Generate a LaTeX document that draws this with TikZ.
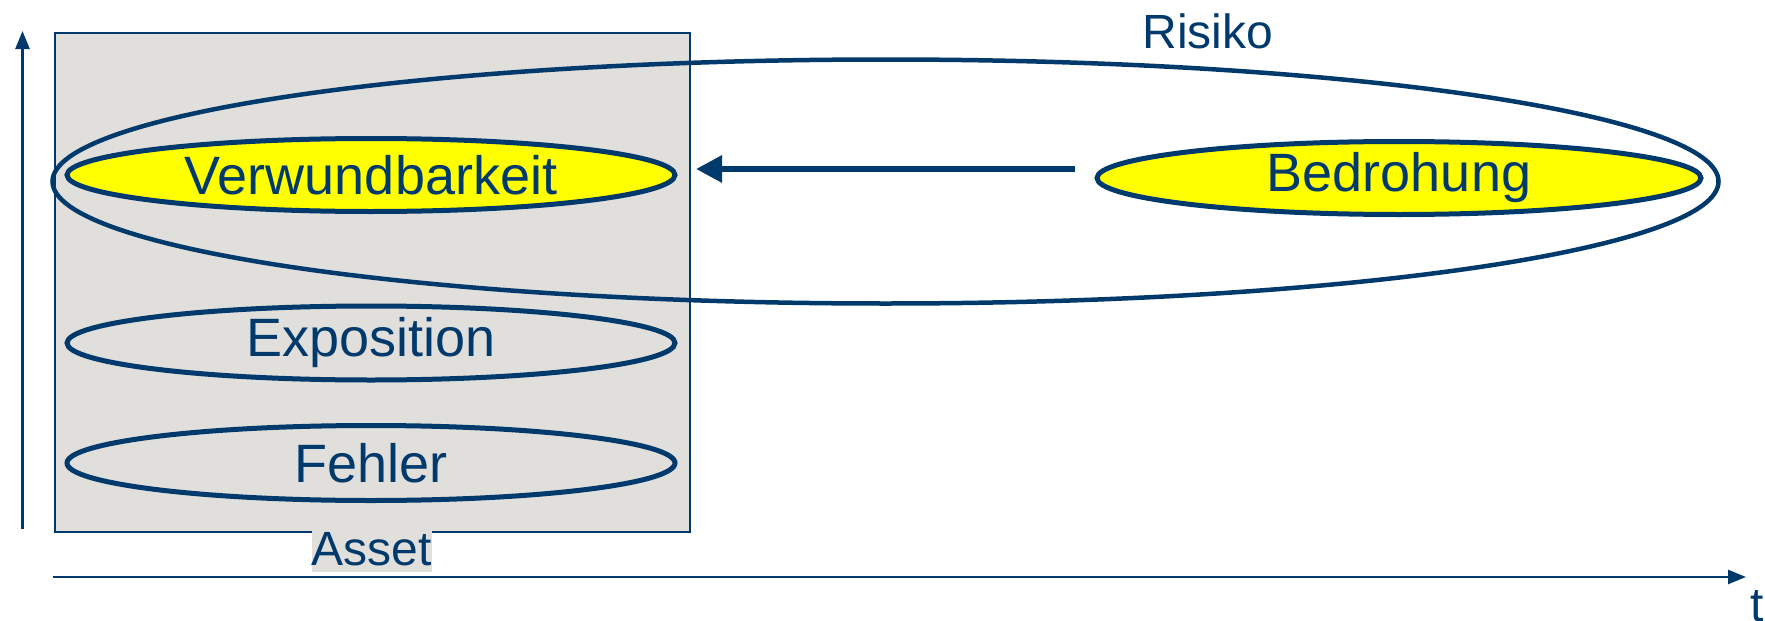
\documentclass[tikz,border=0pt]{standalone}
\usepackage{fontspec}
\setmainfont{Liberation Sans}
\usetikzlibrary{arrows.meta,shapes.geometric}
\definecolor{navy}{HTML}{003A6C}
\definecolor{assetgray}{HTML}{E1DFDB}
\definecolor{yel}{HTML}{FFFF00}
\tikzset{
  oval/.style={ellipse, draw=navy, line width=5pt, inner sep=0pt, text=navy,
     font=\fontsize{54}{62}\selectfont},
  lbl/.style={text=navy, inner sep=0pt, font=\fontsize{48}{56}\selectfont},
  axis/.style={draw=navy, line width=2.5pt, -{Triangle[length=18pt,width=14pt]}}
}
\begin{document}
\begin{tikzpicture}[x=1pt,y=-1pt]
\useasboundingbox (0,0) rectangle (1765,621);
% asset box
\node[draw=navy, line width=2pt, fill=assetgray, minimum width=635pt, minimum height=499.5pt, inner sep=0pt, anchor=north west] (box) at (54,31.5) {};
\node[lbl, fill=assetgray, minimum width=119pt, minimum height=46pt] (asset) at (372,549) {Asset};
% axes
\coordinate (vb) at (22.5,529);
\coordinate (vt) at (22.5,31);
\coordinate (hl) at (53,577);
\coordinate (hr) at (1746,577);
\draw[axis] (vb) -- (vt);
\draw[axis] (hl) -- (hr);
\node[lbl] (t) at (1757,606) {t};
% ellipses
\node[oval, fill=yel, minimum width=608pt, minimum height=73pt] (verw) at (371,175) {Verwundbarkeit};
\node[oval, minimum width=608pt, minimum height=74pt] (expo) at (371,343) {Exposition};
\node[oval, minimum width=608pt, minimum height=75pt] (fehler) at (371,463) {Fehler};
\node[oval, fill=yel, minimum width=604pt, minimum height=73pt] (bedr) at (1399,178) {Bedrohung};
\node[ellipse, draw=navy, line width=4.5pt, minimum width=1666pt, minimum height=244pt] (risk) at (885.5,181.5) {};
\node[lbl] (risklbl) at (1208,31) {Risiko};
% arrow
\coordinate (as) at (1075,169);
\coordinate (ae) at (696,169);
\draw[draw=navy, line width=6pt, -{Triangle[length=26pt,width=26pt]}] (as) -- (ae);
\end{tikzpicture}
\end{document}
